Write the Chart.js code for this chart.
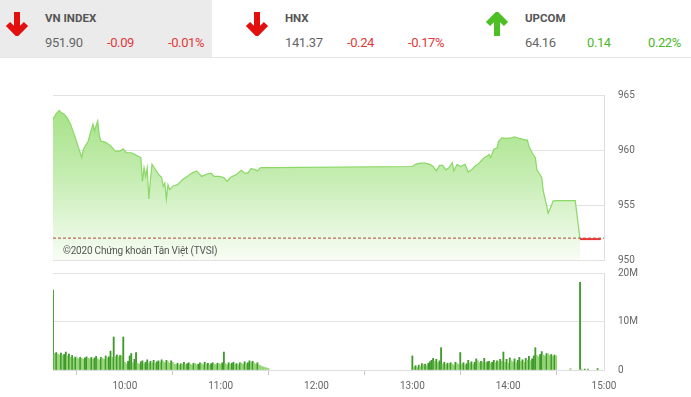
<!DOCTYPE html>
<html>
<head>
<meta charset="utf-8">
<script src="https://cdn.jsdelivr.net/npm/chart.js@4.4.1/dist/chart.umd.min.js"></script>
<style>
  html, body { margin: 0; padding: 0; background: #fff; }
  body { width: 691px; height: 397px; position: relative; overflow: hidden; font-family: Roboto, 'Noto Sans', sans-serif; }
  #header { position: absolute; left: 0; top: 0; width: 691px; height: 57px; border-bottom: 1px solid #e6e6e6; }
  #header .hl { position: absolute; left: 0; top: 0; width: 212px; height: 57px; background: #ebebeb; }
  .arrow { position: absolute; top: 12px; width: 24px; height: 24px; }
  .name { position: absolute; top: 11px; font-size: 11.5px; font-weight: bold; color: #555; }
  .val { position: absolute; top: 35px; font-size: 13px; letter-spacing: -0.4px; color: #666; }
  .down { color: #e03a3a; }
  .up { color: #4cb82a; }
  canvas { position: absolute; left: 0; }
  #priceChart { top: 88px; }
  #volumeChart { top: 268px; }
  #mark { position: absolute; left: 63px; top: 245px; font-size: 10px; letter-spacing: -0.2px; color: #555; z-index: 2; }
</style>
</head>
<body>
<div id="header"><div class="hl"></div></div>
<canvas id="priceChart" width="691" height="180"></canvas>
<canvas id="volumeChart" width="691" height="129"></canvas>
<div id="mark">©2020 Chứng khoán Tân Việt (TVSI)</div>
<script>
// header
const indexNames = ['VN INDEX', 'HNX', 'UPCOM'];
const indexLast = ['951.90', '141.37', '64.16'];
const indexChange = ['-0.09', '-0.24', '0.14'];
const indexPct = ['-0.01%', '-0.17%', '0.22%'];
const indexLeft = [45, 285, 525];

// VN-Index intraday
const indexTimes = [
  '9:15', '9:17', '9:19', '9:20', '9:22', '9:24', '9:26', '9:29', '9:32', '9:33',
  '9:34', '9:37', '9:40', '9:41', '9:43', '9:44', '9:45', '9:48', '9:51', '9:54',
  '9:57', '9:59', '10:01', '10:04', '10:06', '10:08', '10:10', '10:11', '10:12', '10:13',
  '10:14', '10:15', '10:16', '10:17', '10:19', '10:21', '10:23', '10:24', '10:25', '10:26',
  '10:27', '10:28', '10:30', '10:33', '10:36', '10:39', '10:42', '10:45', '10:48', '10:51',
  '10:54', '10:56', '10:59', '11:02', '11:04', '11:06', '11:10', '11:13', '11:15', '11:17',
  '11:19', '11:21', '11:23', '11:25', '11:28', '11:30',
  '13:00', '13:02', '13:05', '13:08', '13:11', '13:13', '13:15', '13:17', '13:19', '13:21',
  '13:23', '13:25', '13:26', '13:28', '13:30', '13:33', '13:35', '13:37', '13:39', '13:41',
  '13:43', '13:45', '13:47', '13:48', '13:49', '13:51', '13:53', '13:54', '13:56', '13:59',
  '14:02', '14:04', '14:07', '14:10', '14:12', '14:13', '14:15', '14:17', '14:18', '14:21',
  '14:22', '14:24', '14:25', '14:27', '14:28', '14:30', '14:42', '14:45'
];
const indexValues = [
  962.8, 963.3, 963.6, 963.4, 963.25, 962.9, 962.35, 961.1, 959.75, 959.3,
  960.05, 960.8, 962.35, 961.75, 962.65, 961.3, 960.8, 960.7, 960.4, 959.9,
  959.9, 960.1, 959.75, 959.75, 959.6, 959.45, 959.3, 957.15, 958.4, 957.6,
  958.4, 955.55, 957.3, 958.7, 958.25, 957.8, 957.5, 956.7, 957.0, 955.55,
  956.85, 956.4, 956.7, 956.85, 957.3, 957.6, 957.9, 958.1, 957.6, 957.8,
  957.9, 957.6, 957.6, 957.5, 957.15, 957.5, 957.8, 958.15, 957.9, 957.9,
  958.3, 958.25, 958.1, 958.4, 958.4, 958.4,
  958.5, 958.7, 958.8, 958.8, 958.7, 958.5, 958.1, 958.6, 958.6, 958.2,
  958.4, 958.85, 958.1, 958.7, 958.5, 958.7, 958.0, 958.2, 958.5, 958.7,
  959.0, 959.3, 959.45, 959.6, 959.3, 960.05, 960.2, 960.8, 961.1, 961.05,
  961.1, 961.2, 961.05, 960.95, 960.9, 960.35, 959.75, 959.3, 958.2, 957.5,
  956.25, 955.0, 954.25, 954.9, 955.35, 955.4, 955.4, 951.9
];
const refPrice = 951.99;
const closeTimes = ['14:45', '14:58'];
const closeValue = 951.90;

// matched volume (millions of shares per minute)
const morningStart = '9:15';
const morningVolume = [
  16.5, 3.4, 3.6, 3.3, 3.1, 3.5, 3.0, 3.2, 3.7, 2.9, 3.3, 2.6, 3.0, 2.4, 2.7, 2.5,
  2.3, 2.6, 2.4, 2.2, 2.5, 2.7, 2.4, 2.3, 2.6, 2.2, 2.5, 2.8, 2.3, 2.1, 2.6,
  2.4, 2.2, 2.9, 2.5, 2.7, 3.9, 2.6, 6.8, 2.8, 3.1, 2.7, 3.0, 2.9, 6.8,
  1.6, 1.3, 1.8, 2.9, 3.4, 1.5, 2.2, 3.6, 1.4, 1.2, 1.7, 1.9, 1.3, 1.6, 2.1, 1.4,
  1.8, 1.5, 2.0, 1.4, 1.7, 1.9, 1.6, 2.1, 1.8, 1.5, 2.0, 1.7, 1.4, 1.9, 1.6,
  1.2, 1.1, 1.4, 1.0, 1.3, 1.2, 1.6, 1.1, 1.3, 1.5, 1.2, 1.0, 1.4, 1.3, 1.1,
  1.2, 1.5, 1.3, 1.1, 1.6, 1.2, 1.4, 1.0, 1.3, 1.5, 1.2, 1.1, 1.4, 1.3, 1.2, 1.5,
  3.7,
  1.3, 1.1, 1.5, 1.2, 1.4, 1.6, 1.2, 1.3, 1.1, 1.5, 1.4, 1.2, 1.7, 1.3, 1.5, 1.9,
  1.6, 1.8, 1.4, 1.2, 1.5, 1.0, 0.9, 0.7, 0.6, 0.5, 0.4, 0.3
];
const afternoonStart = '13:00';
const afternoonVolume = [
  2.9, 0.6, 0.9, 0.5, 1.0, 0.7, 1.3, 1.1, 1.2, 0.9, 1.4,
  1.7, 2.0, 2.4, 1.8, 2.2, 1.5, 1.9, 4.6,
  1.2, 1.6, 1.1, 1.4, 1.3, 1.5, 1.2, 1.0, 1.6, 1.3, 1.1, 3.6,
  1.2, 1.5, 1.0, 1.3, 2.0, 1.4, 1.7, 1.1, 1.6, 2.3, 1.9, 1.5, 1.8, 1.6, 2.4,
  1.5, 1.7, 1.8, 1.4, 1.6, 2.0, 1.5, 1.9, 1.7, 2.2, 1.8, 3.7,
  1.6, 2.2, 1.4, 2.5, 1.9, 1.7, 2.3, 1.5, 2.0, 2.6, 1.8, 2.1, 1.6, 2.4, 2.0, 2.8, 1.9, 2.3, 2.9, 4.6,
  3.0, 2.7, 3.2, 3.8, 3.1, 2.9, 3.4, 3.3, 3.0, 3.2, 2.8, 3.1, 2.9
];
const lateTimes = ['14:39', '14:45', '14:46', '14:48', '14:50', '14:56'];
const lateVolume = [0.3, 18.1, 0.2, 0.2, 0.2, 0.3];

const timeTicks = ['10:00', '11:00', '12:00', '13:00', '14:00', '15:00'];
const priceTicks = [950, 955, 960, 965];
const volumeTicks = [0, 10, 20];
const volumeTickLabels = ['0', '10M', '20M'];

const toMin = (t) => {
  const [h, m] = t.split(':').map(Number);
  return h * 60 + m;
};
const toLabel = (v) => Math.floor(v / 60) + ':' + String(v % 60).padStart(2, '0');
const X_MIN = toMin('9:15');
const X_MAX = toMin('15:00');

// build header
const header = document.getElementById('header');
indexNames.forEach((name, i) => {
  const isUp = !indexChange[i].startsWith('-');
  const cls = isUp ? 'up' : 'down';
  const color = isUp ? '#4cbf24' : '#e30e0e';
  const left = indexLeft[i];
  const path = isUp
    ? '<line x1="12" y1="24" x2="12" y2="5" stroke="' + color + '" stroke-width="6"/><polyline points="3,12 12,3 21,12" fill="none" stroke="' + color + '" stroke-width="6"/>'
    : '<line x1="12" y1="0" x2="12" y2="19" stroke="' + color + '" stroke-width="6"/><polyline points="3,12 12,21 21,12" fill="none" stroke="' + color + '" stroke-width="6"/>';
  header.insertAdjacentHTML('beforeend',
    '<svg class="arrow" style="left:' + (left - 40) + 'px" viewBox="0 0 24 24">' + path + '</svg>' +
    '<div class="name" style="left:' + left + 'px">' + name + '</div>' +
    '<div class="val" style="left:' + left + 'px">' + indexLast[i] + '</div>' +
    '<div class="val ' + cls + '" style="left:' + (left + 62) + 'px">' + indexChange[i] + '</div>' +
    '<div class="val ' + cls + '" style="left:' + (left + 123) + 'px">' + indexPct[i] + '</div>');
});

const tickFont = { family: 'Roboto', size: 10, lineHeight: 1 };
const rightAxisWidth = (scale) => { scale.width = 87; };
// labels pushed right by an invisible tick instead of ticks.padding
// (ticks.padding also pads the plot top/bottom)
const rightGrid = { color: '#e2e2e2', drawTicks: true, tickLength: 14, tickColor: 'rgba(0,0,0,0)' };

// price chart
const priceCtx = document.getElementById('priceChart').getContext('2d');
new Chart(priceCtx, {
  type: 'line',
  data: {
    datasets: [
      {
        data: indexTimes.map((t, i) => ({ x: toMin(t), y: indexValues[i] })),
        borderColor: '#8ad866',
        borderWidth: 1.2,
        pointRadius: 0,
        tension: 0,
        fill: 'start',
        backgroundColor: (c) => {
          const area = c.chart.chartArea;
          if (!area) return 'rgba(140,216,102,0.5)';
          const g = c.chart.ctx.createLinearGradient(0, area.top, 0, area.bottom);
          g.addColorStop(0, '#9fe07d');
          g.addColorStop(0.5, '#c6edb3');
          g.addColorStop(1, '#f8fdf5');
          return g;
        },
        order: 3,
      },
      {
        data: [{ x: X_MIN, y: refPrice }, { x: X_MAX, y: refPrice }],
        borderColor: '#b04a30',
        borderWidth: 1,
        borderDash: [3, 2],
        pointRadius: 0,
        fill: false,
        order: 2,
      },
      {
        data: closeTimes.map((t) => ({ x: toMin(t), y: closeValue })),
        borderColor: '#e53935',
        borderWidth: 2,
        pointRadius: 0,
        fill: false,
        order: 1,
      },
    ],
  },
  options: {
    responsive: false,
    animation: false,
    devicePixelRatio: 1,
    layout: { autoPadding: false, padding: { left: 53, top: 7, right: 0, bottom: 8 } },
    plugins: { legend: { display: false }, tooltip: { enabled: false } },
    scales: {
      x: { type: 'linear', min: X_MIN, max: X_MAX, display: false },
      y: {
        position: 'right',
        min: 950,
        max: 965,
        afterBuildTicks: (s) => { s.ticks = priceTicks.map((v) => ({ value: v })); },
        afterFit: rightAxisWidth,
        grid: rightGrid,
        border: { display: true, color: '#dedede' },
        ticks: { padding: 0, color: '#666', font: tickFont },
      },
    },
  },
});

// volume chart
const volumePoints = [];
morningVolume.forEach((v, i) => volumePoints.push({ x: toMin(morningStart) + i, y: v }));
afternoonVolume.forEach((v, i) => volumePoints.push({ x: toMin(afternoonStart) + i, y: v }));
lateTimes.forEach((t, i) => volumePoints.push({ x: toMin(t), y: lateVolume[i] }));

const volumeCtx = document.getElementById('volumeChart').getContext('2d');
new Chart(volumeCtx, {
  type: 'bar',
  data: {
    datasets: [{
      data: volumePoints,
      backgroundColor: volumePoints.map((p, i) =>
        (i === 0 || p.y >= volumePoints[i - 1].y ? '#3f9a2b' : '#93d474')),
      barThickness: 1.2,
    }],
  },
  options: {
    responsive: false,
    animation: false,
    devicePixelRatio: 1,
    layout: { autoPadding: false, padding: { left: 53, top: 5, right: 0, bottom: 0 } },
    plugins: { legend: { display: false }, tooltip: { enabled: false } },
    scales: {
      x: {
        type: 'linear',
        min: X_MIN,
        max: X_MAX,
        offset: false,
        afterBuildTicks: (s) => { s.ticks = timeTicks.map((t) => ({ value: toMin(t) })); },
        afterFit: (s) => { s.height = 27; },
        grid: { drawOnChartArea: false, drawTicks: true, tickLength: 5, color: '#c8c8c8' },
        border: { display: true, color: '#dedede' },
        ticks: { padding: 5, color: '#666', font: { family: 'Roboto', size: 10 }, maxRotation: 0, autoSkip: false, callback: (v) => toLabel(v) },
      },
      y: {
        position: 'right',
        min: 0,
        max: 20,
        afterBuildTicks: (s) => { s.ticks = volumeTicks.map((v) => ({ value: v })); },
        afterFit: rightAxisWidth,
        grid: rightGrid,
        border: { display: true, color: '#dedede' },
        ticks: {
          padding: 0,
          color: '#666',
          font: tickFont,
          callback: (v) => volumeTickLabels[volumeTicks.indexOf(v)],
        },
      },
    },
  },
});
</script>
</body>
</html>
